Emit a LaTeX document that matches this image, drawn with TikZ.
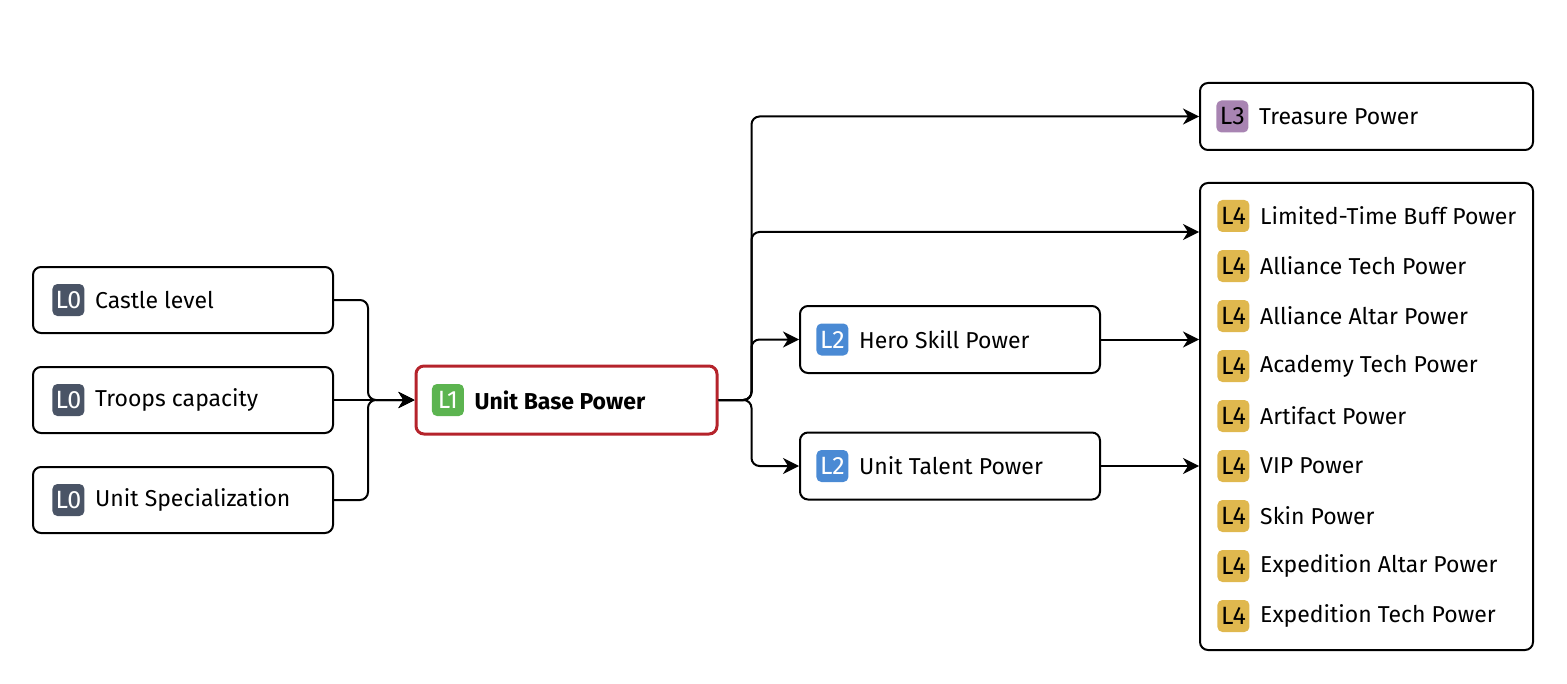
\documentclass[tikz,border=0pt]{standalone}
\usepackage{fontspec}
\setmainfont{Fira Sans}
\usetikzlibrary{positioning,arrows.meta}

\definecolor{lvlzero}{HTML}{4A5466}
\definecolor{lvlone}{HTML}{5CB450}
\definecolor{lvltwo}{HTML}{4A8AD4}
\definecolor{lvlthree}{HTML}{A884B2}
\definecolor{lvlfour}{HTML}{E0B84E}
\definecolor{focusred}{HTML}{B5232B}

\tikzset{
	box/.style={draw,rounded corners=4pt,line width=1pt,minimum width=150pt,minimum height=33pt,inner sep=0},
	badge/.style={fill=#1,rounded corners=2.5pt,minimum size=16pt,inner sep=0,font=\fontsize{12.5}{12.5}\selectfont},
	caption/.style={inner sep=0,font=\fontsize{11.5}{12}\selectfont},
	link/.style={line width=1pt,rounded corners=4pt,-{Stealth[length=8pt,width=8pt,inset=2.5pt]}}
}

\begin{document}
\begin{tikzpicture}[x=0.5pt,y=-0.5pt]
	\useasboundingbox (0,0) rectangle (1567,684);
	% level 0 inputs
	\foreach \name/\y/\txt in {castle/300/Castle level,troops/400/Troops capacity,special/500/Unit Specialization}{
		\node[box] (\name) at (183,\y) {};
		\node[badge=lvlzero,text=white,anchor=west] (\name badge) at ([xshift=10pt]\name.west) {L0};
		\node[caption,right=5pt of \name badge] (\name text) {\txt};
	}
	% level 1
	\node[box,draw=focusred,line width=1.5pt,minimum width=150.5pt,minimum height=34pt] (unitbase) at (566.5,400) {};
	\node[badge=lvlone,text=white,anchor=west] (unitbasebadge) at ([xshift=8.5pt]unitbase.west) {L1};
	\node[caption,right=5pt of unitbasebadge,font=\fontsize{11.5}{12}\selectfont\bfseries] (unitbasetext) {Unit Base Power};
	% level 2
	\node[box,minimum height=33.5pt] (hero) at (950,339.5) {};
	\node[badge=lvltwo,text=white,anchor=west] (herobadge) at ([xshift=8.5pt]hero.west) {L2};
	\node[caption,right=5pt of herobadge] (herotext) {Hero Skill Power};
	\node[box,minimum height=33.5pt] (talent) at (950,466) {};
	\node[badge=lvltwo,text=white,anchor=west] (talentbadge) at ([xshift=8.5pt]talent.west) {L2};
	\node[caption,right=5pt of talentbadge] (talenttext) {Unit Talent Power};
	% level 3
	\node[box,minimum width=166.5pt,minimum height=33.5pt] (treasure) at (1366.5,116.5) {};
	\node[badge=lvlthree,anchor=west] (treasurebadge) at ([xshift=8.5pt]treasure.west) {L3};
	\node[caption,right=5pt of treasurebadge] (treasuretext) {Treasure Power};
	% level 4
	\node[box,minimum width=166.5pt,minimum height=233.5pt] (buffs) at (1366.5,416.5) {};
	\foreach \i/\txt in {0/Limited-Time Buff Power,1/Alliance Tech Power,2/Alliance Altar Power,3/Academy Tech Power,4/Artifact Power,5/VIP Power,6/Skin Power,7/Expedition Altar Power,8/Expedition Tech Power}{
		\node[badge=lvlfour,anchor=west] (buff\i badge) at (1217,216+50*\i) {L4};
		\node[caption,right=5pt of buff\i badge] (buff\i text) {\txt};
	}
	\coordinate (buffin) at ([yshift=-25pt]buffs.north west);

	\draw[link] (castle.east) -- ++(34,0) |- (unitbase.west);
	\draw[link] (troops.east) -- (unitbase.west);
	\draw[link] (special.east) -- ++(34,0) |- (unitbase.west);

	\draw[link] (unitbase.east) -- ++(33,0) |- (treasure.west);
	\draw[link] (unitbase.east) -- ++(33,0) |- (buffin);
	\draw[link] (unitbase.east) -- ++(33,0) |- (hero.west);
	\draw[link] (unitbase.east) -- ++(33,0) |- (talent.west);
	\draw[link] (hero.east) -- (hero.east -| buffs.west);
	\draw[link] (talent.east) -- (talent.east -| buffs.west);
\end{tikzpicture}
\end{document}
